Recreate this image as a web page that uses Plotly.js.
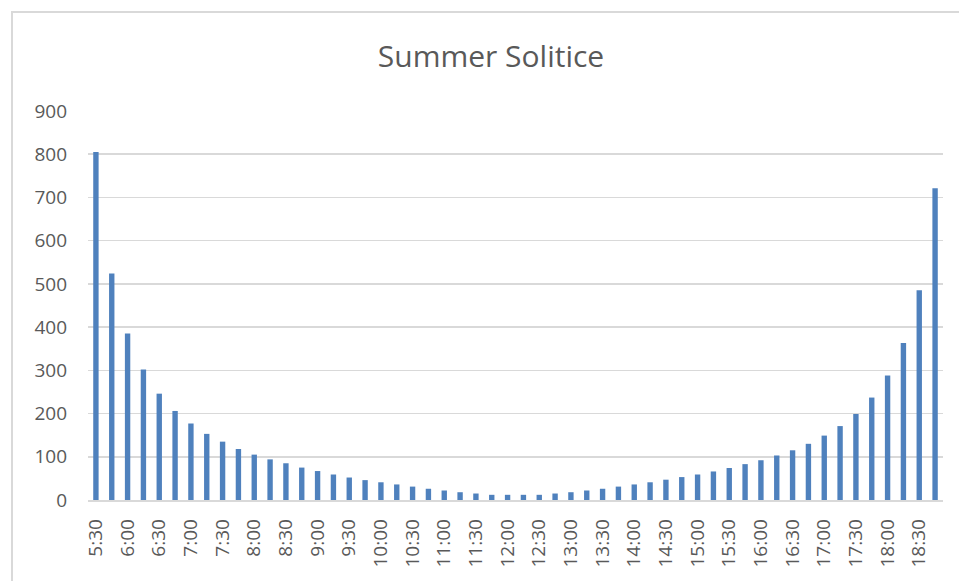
<!DOCTYPE html>
<html>
<head>
<meta charset="utf-8">
<script src="https://cdn.plot.ly/plotly-3.0.1.min.js"></script>
<style>
html,body{margin:0;padding:0;background:#fff;}
#chart{width:959px;height:581px;position:absolute;left:0;top:0;}
#frame{position:absolute;left:11px;top:11px;width:970px;height:600px;border:2px solid #d9d9d9;pointer-events:none;}
</style>
</head>
<body>
<div id="chart"></div>
<div id="frame"></div>
<script>
const times = ["5:30","5:45","6:00","6:15","6:30","6:45","7:00","7:15","7:30","7:45",
  "8:00","8:15","8:30","8:45","9:00","9:15","9:30","9:45","10:00","10:15",
  "10:30","10:45","11:00","11:15","11:30","11:45","12:00","12:15","12:30","12:45",
  "13:00","13:15","13:30","13:45","14:00","14:15","14:30","14:45","15:00","15:15",
  "15:30","15:45","16:00","16:15","16:30","16:45","17:00","17:15","17:30","17:45",
  "18:00","18:15","18:30","18:45"];
const values = [805,524,385,302,246,206,177,153,135,118,
  105,94,85,75,67,59,52,46,41,36,
  31,26,22,18,15,12,12,12,12,15,
  18,22,26,31,36,41,47,53,59,66,
  74,83,92,103,115,130,149,171,199,237,
  288,363,485,721];
const tickLabels = ["5:30","6:00","6:30","7:00","7:30","8:00","8:30","9:00","9:30","10:00",
  "10:30","11:00","11:30","12:00","12:30","13:00","13:30","14:00","14:30","15:00",
  "15:30","16:00","16:30","17:00","17:30","18:00","18:30"];
const yTicks = [0,100,200,300,400,500,600,700,800,900];

const font = "Open Sans, Noto Sans, sans-serif";
Plotly.newPlot("chart", [{
  type: "bar",
  x: times,
  y: values,
  marker: {color: "#4f81bd"},
  hoverinfo: "x+y"
}], {
  width: 959, height: 581,
  margin: {l: 88, r: 16, t: 111, b: 81},
  paper_bgcolor: "#fff",
  plot_bgcolor: "#fff",
  bargap: 0.66,
  showlegend: false,
  title: {text: "Summer Solitice", x: 0.512, xanchor: "center", y: 0.902, yanchor: "middle",
    font: {family: font, size: 30, color: "#595959"}},
  xaxis: {
    type: "category",
    tickmode: "array",
    tickvals: tickLabels,
    ticktext: tickLabels,
    tickangle: -90,
    tickfont: {family: font, size: 19, color: "#595959"},
    showgrid: false,
    showline: true,
    linecolor: "#d9d9d9",
    linewidth: 1.5,
    ticks: "",
    ticklabelstandoff: 10,
    fixedrange: true
  },
  yaxis: {
    range: [0, 900],
    tickmode: "array",
    tickvals: yTicks,
    ticktext: yTicks.map(String),
    tickfont: {family: font, size: 19, color: "#595959"},
    gridcolor: "#d9d9d9",
    gridwidth: 1.5,
    zeroline: false,
    showline: false,
    ticks: "",
    ticklabelstandoff: 20,
    fixedrange: true
  }
}, {displayModeBar: false, staticPlot: true});
</script>
</body>
</html>
